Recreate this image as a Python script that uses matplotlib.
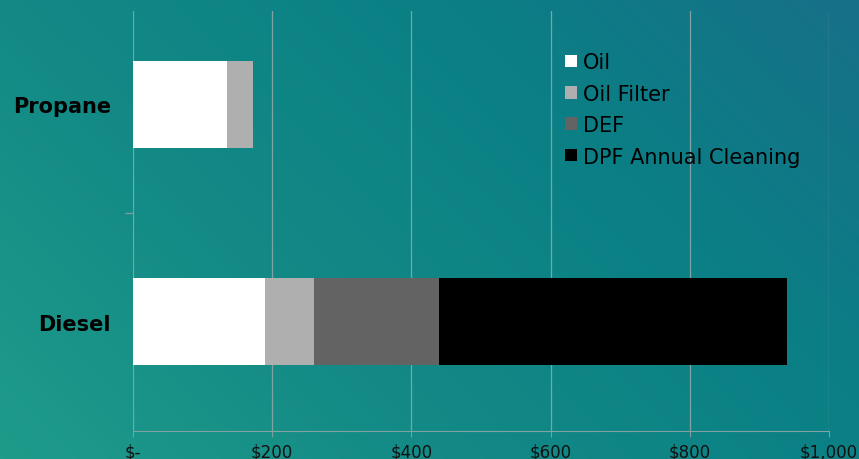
import numpy as np
import matplotlib
matplotlib.use("Agg")
import matplotlib.pyplot as plt
from matplotlib.colors import LinearSegmentedColormap
from matplotlib.ticker import FuncFormatter, FixedLocator

categories = ["Propane", "Diesel"]
series_names = ["Oil", "Oil Filter", "DEF", "DPF Annual Cleaning"]
oil = [135, 190]
oil_filter = [37, 70]
def_fluid = [0, 180]
dpf = [0, 500]
series_values = [oil, oil_filter, def_fluid, dpf]
series_colors = ["#ffffff", "#afafaf", "#636363", "#000000"]
x_ticks = [0, 200, 400, 600, 800, 1000]

plt.rcParams['font.family'] = ['DejaVu Sans']

fig = plt.figure(figsize=(8.59, 4.60), dpi=100)

# gradient background
bg = fig.add_axes([0, 0, 1, 1], zorder=-10)
bg.set_axis_off()
h, w = 460, 859
yy, xx = np.mgrid[0:h, 0:w]
t = (xx / w * 0.65 + (h - yy) / h * 0.35)
cmap = LinearSegmentedColormap.from_list("bgc", ["#1f9b8a", "#138a86", "#0a8085", "#177088"])
bg.imshow(t, cmap=cmap, aspect="auto", extent=[0, 1, 0, 1], origin="upper", vmin=0, vmax=1)
bg.set_xlim(0, 1); bg.set_ylim(0, 1)

ax = fig.add_axes([133/859, 1 - 432/460, (829-133)/859, (432-12)/460])
ax.patch.set_alpha(0)

ypos = np.arange(len(categories))
left = np.zeros(len(categories))
for name, vals, col in zip(series_names, series_values, series_colors):
    ax.barh(ypos, vals, left=left, height=0.4, color=col, label=name, zorder=3)
    left = left + np.array(vals)

ax.set_xlim(0, 1000)
ax.set_ylim(1.503, -0.428)
ax.set_xticks(x_ticks)
ax.xaxis.set_major_formatter(FuncFormatter(lambda v, p: "$-" if v == 0 else "${:,.0f}".format(v)))
ax.set_yticks(ypos)
ax.set_yticklabels(categories, fontsize=15, fontweight="bold")
ax.yaxis.set_minor_locator(FixedLocator([0.5]))
ax.tick_params(axis="y", which="major", length=0, pad=16)
ax.tick_params(axis="y", which="minor", length=6, color="#7a9e9e", width=1)
ax.tick_params(axis="x", length=4, color="#7a9e9e", labelsize=12, pad=4)
for lab in ax.get_xticklabels():
    lab.set_color("#111111")

ax.grid(axis="x", color="#7fa3a3", linewidth=0.9, zorder=0)
for s in ["top", "right", "left"]:
    ax.spines[s].set_visible(False)
ax.spines["bottom"].set_color("#7fa3a3")

leg = ax.legend(loc="upper left", bbox_to_anchor=(0.621, 0.902), frameon=False,
                fontsize=15, handlelength=0.55, handleheight=0.55, handletextpad=0.3,
                labelspacing=0.55, borderaxespad=0, borderpad=0)

fig.savefig("out.png", dpi=100)
